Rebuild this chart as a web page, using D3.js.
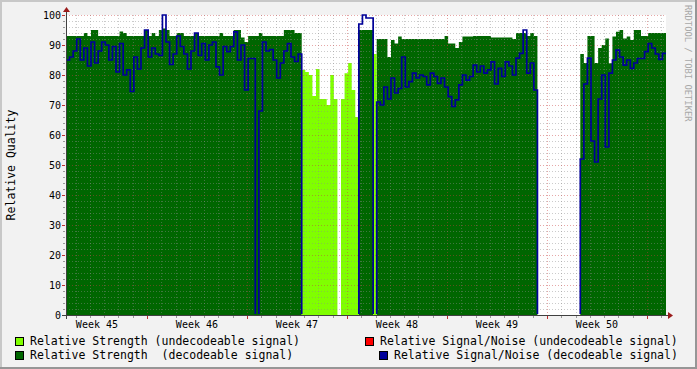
<!DOCTYPE html>
<html>
<head>
<meta charset="utf-8">
<script src="https://cdn.jsdelivr.net/npm/d3@7"></script>
<style>
body { margin: 0; background: #f2f2f2; }
svg { display: block; font-family: "DejaVu Sans Mono", monospace; }
</style>
</head>
<body>
<div id="chart"></div>
<script>
// samples every 6 hours, starting Tue 4 Nov 2008 08:00 UTC (ISO week 45)
var startTime = Date.UTC(2008, 10, 4, 8);
var stepHours = 6;

var strengthDecodeable = [
  93,93,93,93,93,94,93,95,95,93,
  93,93,93,93,93,94.5,94,93,93,93,
  93,93,95,93,94,93,95,95.5,95,93,
  93,94,94,93,93,93,94,93,93,93,
  93,93,93,94,93,93,93,95,95,92.5,
  91,93,93,93,94,93,93,93,93,93,
  93,95,95,95,94,94,0,0,0,0,
  0,0,0,0,0,0,0,0,0,0,
  0,0,95,95,95,95,0,92,92,92,
  86,91.7,90.5,92.8,92,92,92,92,92,92,
  92,92,92,92,92,92,93,90.5,90.5,89,
  91,92.8,92.8,92.8,93,93,93,93,93,92.5,
  92.5,92.5,92.5,92.5,92.5,92,94,94,94,93,
  94,93,0,0,0,0,0,0,0,0,
  0,0,0,0,87,84,93,93,84,89,
  90,92.2,83.9,92.8,94.4,95,92.2,92.8,91.7,95,
  95,93,93,94,94,94,94,94
];

var strengthUndecodeable = [
  0,0,0,0,0,0,0,0,0,0,
  0,0,0,0,0,0,0,0,0,0,
  0,0,0,0,0,0,0,0,0,0,
  0,0,0,0,0,0,0,0,0,0,
  0,0,0,0,0,0,0,0,0,0,
  0,0,0,0,0,0,0,0,0,0,
  0,0,0,0,0,0,81.7,81,80,73,
  82,72,72,70,80,72,0,72,80.6,84,
  75,66,0,0,0,0,87,0,0,0,
  0,0,0,0,0,0,0,0,0,0,
  0,0,0,0,0,0,0,0,0,0,
  0,0,0,0,0,0,0,0,0,0,
  0,0,0,0,0,0,0,0,0,0,
  0,0,0,0,0,0,0,0,0,0,
  0,0,0,0,0,0,0,0,0,0,
  0,0,0,0,0,0,0,0,0,0,
  0,0,0,0,0,0,0,0
];

var snrDecodeable = [
  85,86,88,92,85,89,83,91,84,88,
  91,90,85,89.5,81,90.5,80,81.7,74.5,86,
  82,89,95,86,89,87,86.5,100,91,83.5,
  87,93,89.5,87,82,88,94,86.5,90.5,85,
  90,91,82.7,80,89.5,87.8,89.5,94.4,85,90,
  75,85.5,85.5,0,68,91,88,88.5,85,79,
  84,88,90.5,86,84.5,87,0,0,0,0,
  0,0,0,0,0,0,0,0,0,0,
  0,0,97,100,99,99,0,71,70,76,
  72,79,74,75.5,86,76,77.8,80.6,79,80,
  79.5,76.7,80.6,79.5,77.2,79,76,72.8,69.5,71.7,
  76.7,80,78.3,79.5,83.3,81,83,80.6,81.7,84.4,
  77,82.2,79.5,84.4,83,80,85.6,87.2,95,80.6,
  84,75,0,0,0,0,0,0,0,0,
  0,0,0,0,52,77,85.6,58,51,72,
  80,56,80.6,85,88.3,86,83.3,85,82.2,84,
  85.5,85.5,87.8,90.5,89,87,85.2,87.2
];

var yTicks = [0, 10, 20, 30, 40, 50, 60, 70, 80, 90, 100];

var legendLabels = [
  "Relative Strength (undecodeable signal)",
  "Relative Signal/Noise (undecodeable signal)",
  "Relative Strength  (decodeable signal)",
  "Relative Signal/Noise (decodeable signal)"
];
var legendColors = ["#80ff00", "#ff0000", "#006600", "#000099"];

var width = 697, height = 369;
var stepMs = stepHours * 3600 * 1000;
var endTime = startTime + strengthDecodeable.length * stepMs;

var x = d3.scaleUtc()
    .domain([new Date(startTime), new Date(endTime)])
    .range([66, 666]);
var y = d3.scaleLinear()
    .domain([0, 100])
    .range([315, 15]);

function toPoints(values) {
  var pts = values.map(function(v, i) { return { t: new Date(startTime + i * stepMs), v: v }; });
  pts.push({ t: new Date(endTime), v: values[values.length - 1] });
  return pts;
}

var svg = d3.select("#chart").append("svg")
    .attr("width", width)
    .attr("height", height);

// frame (rrdtool-ish shading)
svg.append("rect").attr("width", width).attr("height", height).attr("fill", "#f2f2f2");
svg.append("rect").attr("x", 0).attr("y", 0).attr("width", width).attr("height", 2).attr("fill", "#c8c8c8");
svg.append("rect").attr("x", 0).attr("y", 0).attr("width", 2).attr("height", height).attr("fill", "#c8c8c8");
svg.append("rect").attr("x", 0).attr("y", height - 2).attr("width", width).attr("height", 2).attr("fill", "#969696");
svg.append("rect").attr("x", width - 2).attr("y", 0).attr("width", 2).attr("height", height).attr("fill", "#969696");

// canvas
svg.append("rect")
    .attr("x", x.range()[0]).attr("y", y(100))
    .attr("width", x.range()[1] - x.range()[0])
    .attr("height", y(0) - y(100))
    .attr("fill", "#ffffff");

var defs = svg.append("defs");
defs.append("clipPath").attr("id", "plot")
  .append("rect")
    .attr("x", x.range()[0]).attr("y", y(100) - 2)
    .attr("width", x.range()[1] - x.range()[0])
    .attr("height", y(0) - y(100) + 2);
// the SNR line sits on 0 in the gaps; keep it off the bottom row like rrdtool does
defs.append("clipPath").attr("id", "lineclip")
  .append("rect")
    .attr("x", x.range()[0]).attr("y", y(100) - 3)
    .attr("width", x.range()[1] - x.range()[0])
    .attr("height", y(0) - y(100) + 2);

var area = d3.area()
    .curve(d3.curveStepAfter)
    .x(function(d) { return x(d.t); })
    .y0(y(0))
    .y1(function(d) { return y(d.v); });

var line = d3.line()
    .curve(d3.curveStepAfter)
    .x(function(d) { return x(d.t); })
    .y(function(d) { return y(d.v); });

var plot = svg.append("g").attr("clip-path", "url(#plot)");

plot.append("path")
    .attr("d", area(toPoints(strengthDecodeable)))
    .attr("fill", "#006600");
plot.append("path")
    .attr("d", area(toPoints(strengthUndecodeable)))
    .attr("fill", "#80ff00");

// grid
var minorGrid = "rgba(140,140,140,0.45)";
var majorGrid = "rgba(200,60,60,0.45)";
var grid = svg.append("g").attr("shape-rendering", "crispEdges");

var days = d3.utcDay.range(x.domain()[0], x.domain()[1]);

days.forEach(function(d) {
  var isMajor = d.getUTCDay() === 1;
  var xp = Math.round(x(d)) + 0.5;
  grid.append("line")
      .attr("x1", xp).attr("x2", xp)
      .attr("y1", y(100)).attr("y2", y(0))
      .attr("stroke", isMajor ? majorGrid : minorGrid)
      .attr("stroke-dasharray", "1,2");
  grid.append("line")
      .attr("x1", xp).attr("x2", xp)
      .attr("y1", y(0) + 1).attr("y2", y(0) + (isMajor ? 4 : 3))
      .attr("stroke", isMajor ? "#c03030" : "#999");
});

d3.range(2, 101, 2).forEach(function(v) {
  var isMajor = v % 10 === 0;
  var yp = Math.round(y(v)) + 0.5;
  grid.append("line")
      .attr("x1", x.range()[0]).attr("x2", x.range()[1])
      .attr("y1", yp).attr("y2", yp)
      .attr("stroke", isMajor ? majorGrid : minorGrid)
      .attr("stroke-dasharray", "1,2");
  grid.append("line")
      .attr("x1", x.range()[0] - (isMajor ? 4 : 3)).attr("x2", x.range()[0] - 1)
      .attr("y1", yp).attr("y2", yp)
      .attr("stroke", isMajor ? "#c03030" : "#999");
});

svg.append("g").attr("clip-path", "url(#lineclip)")
  .append("path")
    .attr("d", line(toPoints(snrDecodeable)))
    .attr("fill", "none")
    .attr("stroke", "#000099")
    .attr("stroke-width", 1.7);

// axes
var axisColor = "#404040";
var arrowColor = "#9b1c1c";
svg.append("line")
    .attr("x1", 62).attr("x2", 670)
    .attr("y1", y(0) + 0.5).attr("y2", y(0) + 0.5)
    .attr("stroke", axisColor).attr("shape-rendering", "crispEdges");
svg.append("line")
    .attr("x1", x.range()[0] + 0.5).attr("x2", x.range()[0] + 0.5)
    .attr("y1", y(0) + 4).attr("y2", 10)
    .attr("stroke", axisColor).attr("shape-rendering", "crispEdges");
svg.append("path")
    .attr("d", "M668,312 L673,315.5 L668,319 Z")
    .attr("fill", arrowColor);
svg.append("path")
    .attr("d", "M63,12 L66.5,7 L70,12 Z")
    .attr("fill", arrowColor);

// y labels
svg.append("g").selectAll("text")
    .data(yTicks)
  .enter().append("text")
    .attr("x", 61)
    .attr("y", function(d) { return y(d); })
    .attr("dy", "0.35em")
    .attr("text-anchor", "end")
    .attr("font-size", "10px")
    .attr("fill", "#000")
    .text(function(d) { return d; });

// week labels, centred in each week
var weekFormat = d3.utcFormat("Week %V");
var weekStarts = d3.utcMonday.range(d3.utcMonday.floor(x.domain()[0]), x.domain()[1]);
svg.append("g").selectAll("text")
    .data(weekStarts.filter(function(d) {
      var mid = x(d3.utcHour.offset(d, 84));
      return mid > x.range()[0] && mid < x.range()[1];
    }))
  .enter().append("text")
    .attr("x", function(d) { return x(d3.utcHour.offset(d, 84)); })
    .attr("y", 328)
    .attr("text-anchor", "middle")
    .attr("font-size", "10px")
    .attr("fill", "#000")
    .text(weekFormat);

// y title
svg.append("text")
    .attr("transform", "translate(15,165) rotate(-90)")
    .attr("text-anchor", "middle")
    .attr("font-size", "11.5px")
    .attr("fill", "#000")
    .text("Relative Quality");

// watermark
svg.append("text")
    .attr("transform", "translate(685,5) rotate(90)")
    .attr("text-anchor", "start")
    .attr("font-size", "8.8px")
    .attr("fill", "#a8a8a8")
    .text("RRDTOOL / TOBI OETIKER");

// legend
var legendPos = [
  { sx: 15, tx: 30, y: 337 },
  { sx: 365, tx: 380, y: 337 },
  { sx: 15, tx: 30, y: 351 },
  { sx: 379, tx: 394, y: 351 }
];
var legend = svg.append("g").selectAll("g")
    .data(legendLabels)
  .enter().append("g");
legend.append("rect")
    .attr("x", function(d, i) { return legendPos[i].sx + 0.5; })
    .attr("y", function(d, i) { return legendPos[i].y + 0.5; })
    .attr("width", 8).attr("height", 8)
    .attr("fill", function(d, i) { return legendColors[i]; })
    .attr("stroke", "#000");
legend.append("text")
    .attr("x", function(d, i) { return legendPos[i].tx; })
    .attr("y", function(d, i) { return legendPos[i].y + 8; })
    .attr("font-size", "11.5px")
    .attr("fill", "#000")
    .style("white-space", "pre")
    .text(function(d) { return d; });
</script>
</body>
</html>
